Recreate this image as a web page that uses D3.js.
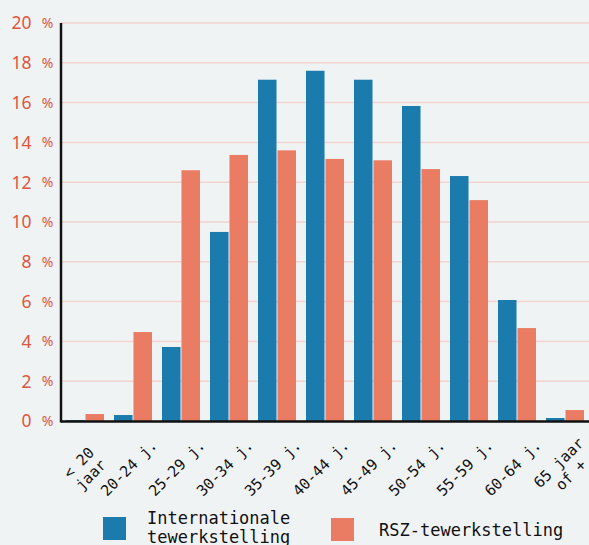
<!DOCTYPE html>
<html>
<head>
<meta charset="utf-8">
<script src="https://cdn.jsdelivr.net/npm/d3@7"></script>
<style>
  body { margin: 0; background: #f0f3f4; }
  svg { display: block; }
</style>
</head>
<body>
<div id="chart"></div>
<script>
var categories = [["< 20", "jaar"], ["20-24 j."], ["25-29 j."], ["30-34 j."], ["35-39 j."], ["40-44 j."],
    ["45-49 j."], ["50-54 j."], ["55-59 j."], ["60-64 j."], ["65 jaar", "of +"]];
var internationaal = [0.05, 0.3, 3.72, 9.5, 17.15, 17.6, 17.15, 15.83, 12.31, 6.08, 0.15];
var rsz = [0.35, 4.47, 12.6, 13.37, 13.6, 13.17, 13.1, 12.66, 11.1, 4.67, 0.55];
var yTicks = [0, 2, 4, 6, 8, 10, 12, 14, 16, 18, 20];
var seriesNames = ["Internationale tewerkstelling", "RSZ-tewerkstelling"];

var width = 589, height = 545;
var mLeft = 61, mTop = 23, mBottom = 421;

var svg = d3.select("#chart").append("svg")
    .attr("width", width)
    .attr("height", height);

var x = d3.scaleBand()
    .domain(d3.range(categories.length))
    .range([mLeft, mLeft + 48 * categories.length]);
var inner = d3.scaleBand()
    .domain([0, 1])
    .range([5, 43])
    .paddingInner(0.05);
var y = d3.scaleLinear().domain([0, 20]).range([mBottom, mTop]);

// gridlines
svg.append("g")
    .selectAll("line")
    .data(yTicks)
    .enter().append("line")
    .attr("x1", mLeft)
    .attr("x2", width)
    .attr("y1", function (d) { return y(d); })
    .attr("y2", function (d) { return y(d); })
    .attr("stroke", "#f2d3d0")
    .attr("stroke-width", 1.5);

// y axis labels (number + separate %)
var yl = svg.append("g")
    .selectAll("g")
    .data(yTicks)
    .enter().append("g")
    .attr("transform", function (d) { return "translate(0," + y(d) + ")"; })
    .style("font-family", "'Noto Sans', sans-serif")
    .attr("fill", "#e0553f");
yl.append("text")
    .attr("x", 31.5)
    .attr("dy", "0.36em")
    .attr("text-anchor", "end")
    .style("font-size", "17.5px")
    .text(function (d) { return d; });
yl.append("text")
    .attr("x", 53.5)
    .attr("dy", "0.36em")
    .attr("text-anchor", "end")
    .style("font-size", "14px")
    .text("%");

// bars
var groups = svg.append("g")
    .selectAll("g")
    .data(categories.map(function (c, i) { return i; }))
    .enter().append("g")
    .attr("transform", function (i) { return "translate(" + x(i) + ",0)"; });

groups.append("rect")
    .attr("x", inner(0))
    .attr("width", inner.bandwidth())
    .attr("y", function (i) { return y(internationaal[i]); })
    .attr("height", function (i) { return y(0) - y(internationaal[i]); })
    .attr("fill", "#1b7bad");

groups.append("rect")
    .attr("x", inner(1))
    .attr("width", inner.bandwidth())
    .attr("y", function (i) { return y(rsz[i]); })
    .attr("height", function (i) { return y(0) - y(rsz[i]); })
    .attr("fill", "#e97c63");

// axis lines
svg.append("line")
    .attr("x1", mLeft).attr("x2", mLeft)
    .attr("y1", mTop).attr("y2", mBottom + 1.5)
    .attr("stroke", "#111").attr("stroke-width", 2.5);
svg.append("line")
    .attr("x1", mLeft).attr("x2", width)
    .attr("y1", mBottom + 0.5).attr("y2", mBottom + 0.5)
    .attr("stroke", "#111").attr("stroke-width", 2.5);

// x labels, rotated
var xl = svg.append("g")
    .selectAll("text")
    .data(categories)
    .enter().append("text")
    .attr("transform", function (d, i) {
        return "translate(" + (x(i) + x.bandwidth() / 2 + 25) + "," + (mBottom + 25) + ") rotate(-45)";
    })
    .attr("text-anchor", function (d) { return d.length > 1 ? "middle" : "end"; })
    .style("font-family", "'DejaVu Sans Mono', monospace")
    .style("font-size", "15px")
    .attr("fill", "#111");
xl.selectAll("tspan")
    .data(function (d) { return d.map(function (t, k) { return { t: t, k: k, n: d.length }; }); })
    .enter().append("tspan")
    .attr("x", function (d) { return d.n > 1 ? -34 : 0; })
    .attr("y", function (d) { return d.n > 1 ? -5 + d.k * 17 : 0; })
    .text(function (d) { return d.t; });

// legend
var legend = svg.append("g");
legend.append("rect").attr("x", 103).attr("y", 517).attr("width", 23).attr("height", 23).attr("fill", "#1b7bad");
legend.append("text")
    .attr("x", 147).attr("y", 524)
    .style("font-family", "'DejaVu Sans Mono', monospace")
    .style("font-size", "17px")
    .attr("fill", "#111")
    .selectAll("tspan")
    .data(["Internationale", "tewerkstelling"])
    .enter().append("tspan")
    .attr("x", 147)
    .attr("dy", function (d, i) { return i ? 19 : 0; })
    .text(function (d) { return d; });
legend.append("rect").attr("x", 331).attr("y", 518).attr("width", 23).attr("height", 23).attr("fill", "#e97c63");
legend.append("text")
    .attr("x", 379).attr("y", 536)
    .style("font-family", "'DejaVu Sans Mono', monospace")
    .style("font-size", "17px")
    .attr("fill", "#111")
    .text(seriesNames[1]);
</script>
</body>
</html>
